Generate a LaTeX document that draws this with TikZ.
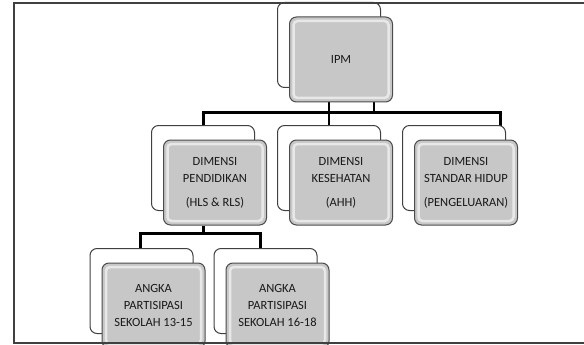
\documentclass[tikz,border=0pt]{standalone}
\usepackage{fontspec}
\setmainfont{Carlito}
\usetikzlibrary{positioning,shadows,backgrounds}

\begin{document}
\begin{tikzpicture}[
		dimbox/.style={draw=black!70, line width=1pt, rounded corners=7pt, fill=black!22,
			minimum width=103pt, minimum height=85pt, inner sep=0pt, align=center,
			text=black!90, font=\fontsize{12.5}{17}\selectfont,
			copy shadow={shadow xshift=-12pt, shadow yshift=14.5pt, fill=white, draw=black!75, line width=1pt},
			path picture={\draw[white, opacity=.6, line width=2.5pt, rounded corners=4pt]
				([shift={(4pt,4pt)}]path picture bounding box.south west) rectangle
				([shift={(-4pt,-4pt)}]path picture bounding box.north east);}},
		link/.style={line width=2.8pt, black},
	]
	\useasboundingbox (0,0) rectangle (584pt,-345pt);
	\clip (0,0) rectangle (584pt,-345pt);
	\node[dimbox] (ipm) at (341pt,-59.5pt) {IPM};
	\node[dimbox, below=37pt of ipm] (kes) {DIMENSI\\KESEHATAN\\[7pt](AHH)};
	\node[dimbox, left=22pt of kes] (pend) {DIMENSI\\PENDIDIKAN\\[7pt](HLS \& RLS)};
	\node[dimbox, right=21pt of kes] (std) {DIMENSI\\STANDAR HIDUP\\[7pt](PENGELUARAN)};
	\node[dimbox, below=37pt of pend, xshift=-61.5pt] (apk1) {ANGKA\\PARTISIPASI\\SEKOLAH 13-15};
	\node[dimbox, right=20pt of apk1] (apk2) {ANGKA\\PARTISIPASI\\SEKOLAH 16-18};
	\begin{scope}[on background layer]
		\draw[link] ([xshift=-12pt]ipm.south) -- ([xshift=-12pt]kes.north);
		\draw[link] ([xshift=33pt]ipm.south) -- ++(0,-10pt) coordinate (bus);
		\draw[link] ([xshift=-11.5pt]pend.north) |- (bus) -| ([xshift=34.5pt]std.north);
		\draw[link] ([xshift=-11.5pt]pend.south) -- ++(0,-8pt) coordinate (bus2);
		\draw[link] ([xshift=-13pt]apk1.north) |- (bus2) -| ([xshift=-17pt]apk2.north);
	\end{scope}
	\draw[black!75, line width=1.5pt] (584pt,-3pt) -| (14pt,-343pt) -- (584pt,-343pt);
\end{tikzpicture}
\end{document}
